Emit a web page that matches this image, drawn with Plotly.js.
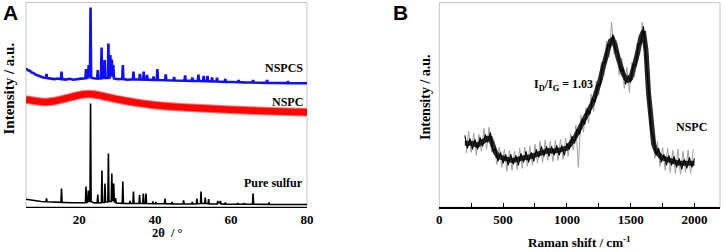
<!DOCTYPE html>
<html>
<head>
<meta charset="utf-8">
<script src="https://cdn.plot.ly/plotly-3.0.1.min.js"></script>
<style>
html,body{margin:0;padding:0;background:#fff;}
#chart{width:726px;height:252px;}
</style>
</head>
<body>
<div id="chart"></div>
<script>
// ---------- Panel A: XRD (2θ in degrees, intensity in arbitrary units) ----------
const xrdTicks = [20, 40, 60, 80];

const sulfurX = [6,7,8,9,10,11.25,11.4,11.55,13,15.2,15.35,15.5,18,21.65,21.8,21.95,22.25,22.4,22.55,22.85,23.0,23.15,24.0,24.75,24.9,25.05,25.85,26.0,26.15,26.65,26.8,26.95,27.55,27.7,27.85,28.45,28.6,28.75,28.95,29.1,29.25,29.45,29.6,29.75,31.35,31.5,31.65,33.25,33.4,33.55,34.15,34.3,34.45,35.75,35.9,36.05,36.75,36.9,37.05,37.45,37.6,37.75,39.25,39.4,39.55,40.05,40.2,40.35,42.45,42.6,42.75,44.35,44.5,44.65,47.35,47.5,47.65,49.65,49.8,49.95,50.85,51.0,51.15,51.95,52.1,52.25,53.05,53.2,53.35,53.95,54.1,54.25,56.35,56.5,56.65,57.05,57.2,57.35,58.35,58.5,58.65,61.65,61.8,61.95,63.35,63.5,63.65,65.65,65.8,65.95,69.85,70.0,70.15,80];
const sulfurY = [7.2,6.5,6,5.3,5,4.8,8,4.7,4.3,4.1,18,4.1,3.8,3.7,20,4,4.5,16,5,5,103,5,3.6,3.6,12,3.6,3.8,36,4,4,23,4.5,4.5,53,5,5,33,6,6,23,5,4,8.5,3.5,3.2,25,3.2,3,5.5,3,3,15,3,3,11.5,3,3,13,3,3,13,3,2.8,5,2.8,2.8,4.5,2.8,2.7,8,2.7,2.6,4.5,2.6,2.5,6,2.5,2.5,4.5,2.5,2.5,8,2.8,3,15,3,3,9,3,2.8,7.5,2.6,2.5,5.5,3.5,3.5,5.5,2.5,2.4,4,2.4,2.3,3.5,2.3,2.3,3.5,2.3,2.2,13,2.2,2.1,4,2.1,2];

const nspcsX = [6,6.5,7,7.5,8,8.5,9,9.5,10,10.5,11.25,11.4,11.55,12.5,13.5,14.5,15.2,15.35,15.5,16.5,17.5,18.5,19.5,20.5,21.65,21.8,21.95,22.35,22.5,22.65,22.85,23.0,23.15,23.8,24.75,24.9,25.05,25.75,25.9,26.05,26.55,26.7,26.85,27.55,27.7,27.85,28.05,28.2,28.35,28.45,28.6,28.75,28.85,29.0,29.15,30.3,31.35,31.5,31.65,32.8,34.15,34.3,34.45,35.85,36.0,36.15,36.85,37.0,37.15,37.75,37.9,38.05,39.45,39.6,39.75,40.45,40.6,40.75,42.65,42.8,42.95,44.85,45.0,45.15,46.5,47.75,47.9,48.05,49.65,49.8,49.95,51.25,51.4,51.55,52.65,52.8,52.95,53.65,53.8,53.95,54.85,55.0,55.15,56.15,56.3,56.45,58.35,58.5,58.65,60,61.85,62.0,62.15,63.5,65.65,65.8,65.95,67.5,69.35,69.5,69.65,72,74.85,75.0,75.15,77.5,80];
const nspcsY = [138,136.2,135.8,134,133.4,131.8,131.2,130.2,129.8,129,128.6,132.5,128.4,128.2,127.4,128,127.3,135,127.4,126.9,127.7,126.8,127.6,127.9,128.3,137.5,128.5,129,141.5,129.5,129.5,199,129,128.3,128,136.5,128,128,159,128.5,128.5,146.5,128.5,128.5,163,129,129,151.5,130,130,147,130,129.5,141.5,128,127.3,127.6,141.5,127.4,126.8,127.3,135,127.2,127,132.5,127,126.9,135,126.9,126.8,131.5,126.8,126.6,130,126.6,126.5,137.5,126.5,126.3,132,126.2,126,129.5,126,125.7,125.8,131,125.8,125.6,129,125.6,125.5,132,125.5,125.4,130.5,125.4,125.3,130.5,125.3,125.2,129,125.1,125,128.8,125,124.7,127.5,124.7,124.5,124.3,126.5,124.3,124.1,124,126.5,124,123.8,123.6,126.5,123.6,123.5,123.4,125.5,123.4,123.3,123.2];

const nspcX = [6,8,10,11,12,14,16,18,20,21,22.5,24,25,26,28,30,32,34,36,38,40,42,45,48,52,56,60,65,70,75,80];
const nspcY = [107,105.7,104.8,104.5,104.7,105.8,107.6,109.5,111.3,112,112.5,112,111.3,110.5,108.8,107.2,105.8,104.5,103.3,102.2,101.3,100.6,99.7,99,98.2,97.5,96.8,96,95.3,94.7,94.2];

// ---------- Panel B: Raman (shift in cm-1, intensity in arbitrary units) ----------
const ramanTicks = [0, 500, 1000, 1500, 2000];
const ramanMinorTicks = [250, 750, 1250, 1750];

const ramanX = [200,220,240,260,280,300,320,340,360,380,400,420,440,460,480,500,520,540,560,580,600,620,640,660,680,700,720,740,760,780,800,820,840,860,880,900,920,940,960,980,1000,1020,1040,1060,1080,1100,1120,1140,1160,1180,1200,1220,1240,1260,1280,1300,1320,1340,1360,1380,1400,1420,1440,1460,1480,1500,1520,1540,1560,1580,1600,1620,1640,1660,1680,1700,1720,1740,1760,1780,1800,1820,1840,1860,1880,1900,1920,1940,1960,1980,2000];
// dense core of the noisy band (read along its middle)
const ramanMid = [64,64,65,64,63,62,64,66,68,69,69,61,55,51,50,50,49,47,47,47,47,48,49,49,50,50,51,52,53,54,55,56,57,57,56,56,56,57,58,58,59,62,65,69,74,79,83,87,92,98,104,111,118,127,138,149,158,166,168,161,150,141,134,129,127,129,137,147,158,170,176,157,114,81,63,56,53,50,49,48,47,46,45,45,44,44,44,44,44,44,44];
// jagged black edge of the band
const ramanY = [72,59,69,58,68,58,70,61,73,65,75,56,59,46,55,44,53,42,53,43,52,42,54,45,56,45,55,46,58,50,61,51,61,51,61,52,62,52,62,52,64,58,71,64,78,73,88,83,98,93,109,105,122,122,144,145,163,160,173,157,156,136,138,123,132,125,143,142,162,165,181,153,117,77,68,52,59,45,53,42,52,42,51,40,49,38,48,39,50,40,49];
// light grey spikes around the band
const ramanSpikeX = [210,230,250,270,290,310,330,350,370,390,410,430,450,470,490,510,530,550,570,590,610,630,650,670,690,710,730,750,770,790,810,830,850,870,890,910,930,950,970,990,1010,1030,1050,1070,1090,1110,1130,1150,1170,1190,1210,1230,1250,1270,1290,1310,1330,1350,1370,1390,1410,1430,1450,1470,1490,1510,1530,1550,1570,1590,1610,1630,1650,1670,1690,1710,1730,1750,1770,1790,1810,1830,1850,1870,1890,1910,1930,1950,1970,1990];
const ramanSpikeY = [54,76,55,74,52,73,56,79,58,80,55,66,43,60,40,58,36,57,37,56,38,59,39,60,41,61,42,63,44,66,45,67,47,66,46,67,47,68,48,69,51,74,57,82,40,92,75,100,84,113,96,126,112,145,132,166,150,185,153,167,132,149,119,140,115,145,130,164,152,185,157,145,87,82,49,66,41,60,37,59,35,57,34,58,33,56,35,57,34,58];

const serif = 'Liberation Serif, Times New Roman, serif';
const W = 726, H = 252;
function px(x){ return x / W; }
function py(y){ return 1 - y / H; }

const traces = [
  {x: sulfurX, y: sulfurY, xaxis:'x', yaxis:'y', mode:'lines', line:{color:'#000000', width:1.6}, hoverinfo:'skip'},
  {x: nspcX, y: nspcY, xaxis:'x', yaxis:'y', mode:'lines', line:{color:'rgba(255,0,0,0.55)', width:8.5, shape:'spline'}, hoverinfo:'skip'},
  {x: nspcX, y: nspcY, xaxis:'x', yaxis:'y', mode:'lines', line:{color:'#ff0505', width:6.5, shape:'spline'}, hoverinfo:'skip'},
  {x: nspcsX, y: nspcsY, xaxis:'x', yaxis:'y', mode:'lines', line:{color:'#1010ff', width:2.6}, hoverinfo:'skip'},
  {x: ramanSpikeX, y: ramanSpikeY, xaxis:'x2', yaxis:'y2', mode:'lines', line:{color:'#a0a0a0', width:1}, hoverinfo:'skip'},
  {x: ramanX, y: ramanMid, xaxis:'x2', yaxis:'y2', mode:'lines', line:{color:'#262626', width:5}, hoverinfo:'skip'},
  {x: ramanX, y: ramanY, xaxis:'x2', yaxis:'y2', mode:'lines', line:{color:'#000000', width:1.1}, hoverinfo:'skip'}
];

const tickFont = {family: serif, size: 13, color: '#000', weight: 'bold'};
const axisBase = {showgrid:false, zeroline:false, showline:true, linecolor:'#000', linewidth:1.5, tickfont:tickFont};

const layout = {
  width: W, height: H,
  margin: {l:0, r:0, t:0, b:0},
  paper_bgcolor: '#fff', plot_bgcolor: '#fff',
  showlegend: false,
  xaxis: Object.assign({}, axisBase, {domain:[26/W, 307/W], range:[6,80], tickvals: xrdTicks, ticktext: xrdTicks.map(String), ticks:'', anchor:'y'}),
  yaxis: {domain:[1-206.5/H, 1-2.5/H], range:[0,204], showgrid:false, zeroline:false, showticklabels:false, showline:false, ticks:'', anchor:'x'},
  xaxis2: Object.assign({}, axisBase, {domain:[439.3/W, 720/W], range:[0,2200], tickvals: ramanTicks, ticktext: ramanTicks.map(String), ticks:'inside', ticklen:4, tickwidth:1, tickcolor:'#000',
    minor:{tickvals: ramanMinorTicks, ticks:'inside', ticklen:4, tickwidth:1, tickcolor:'#000'}, anchor:'y2'}),
  yaxis2: {domain:[1-207.3/H, 1-2.7/H], range:[0,204.6], showgrid:false, zeroline:false, showticklabels:false, showline:false, ticks:'', anchor:'x2'},
  shapes: [
    {type:'rect', xref:'x domain', yref:'y domain', x0:0, x1:1, y0:0, y1:1, line:{color:'#c4c4c4', width:1}, layer:'below'},
    {type:'rect', xref:'x2 domain', yref:'y2 domain', x0:0, x1:1, y0:0, y1:1, line:{color:'#c4c4c4', width:1}, layer:'below'}
  ],
  annotations: [
    {text:'A', x:px(10), y:py(12.5), xref:'paper', yref:'paper', showarrow:false, xanchor:'center', yanchor:'middle', font:{family:'Liberation Sans, Arial, sans-serif', size:21, color:'#000', weight:'bold'}},
    {text:'B', x:px(400), y:py(12.5), xref:'paper', yref:'paper', showarrow:false, xanchor:'center', yanchor:'middle', font:{family:'Liberation Sans, Arial, sans-serif', size:21, color:'#000', weight:'bold'}},
    {text:'Intensity / a.u.', x:px(8.5), y:py(89), xref:'paper', yref:'paper', showarrow:false, textangle:-90, xanchor:'center', yanchor:'middle', font:{family:serif, size:15, color:'#000', weight:'bold'}},
    {text:'Intensity / a.u.', x:px(426), y:py(97), xref:'paper', yref:'paper', showarrow:false, textangle:-90, xanchor:'center', yanchor:'middle', font:{family:serif, size:14, color:'#000', weight:'bold'}},
    {text:'2θ  / °', x:px(167), y:py(232.5), xref:'paper', yref:'paper', showarrow:false, xanchor:'center', yanchor:'middle', font:{family:serif, size:12.5, color:'#000', weight:'bold'}},
    {text:'Raman shift / cm<sup>-1</sup>', x:px(579), y:py(242), xref:'paper', yref:'paper', showarrow:false, xanchor:'center', yanchor:'middle', font:{family:serif, size:13, color:'#000', weight:'bold'}},
    {text:'NSPCS', x:px(305), y:py(67.7), xref:'paper', yref:'paper', showarrow:false, xanchor:'right', yanchor:'middle', font:{family:serif, size:12, color:'#000', weight:'bold'}},
    {text:'NSPC', x:px(305), y:py(101.7), xref:'paper', yref:'paper', showarrow:false, xanchor:'right', yanchor:'middle', font:{family:serif, size:12, color:'#000', weight:'bold'}},
    {text:'Pure sulfur', x:px(305), y:py(183.3), xref:'paper', yref:'paper', showarrow:false, xanchor:'right', yanchor:'middle', font:{family:serif, size:12, color:'#000', weight:'bold'}},
    {text:'NSPC', x:px(691), y:py(126.7), xref:'paper', yref:'paper', showarrow:false, xanchor:'center', yanchor:'middle', font:{family:serif, size:12, color:'#000', weight:'bold'}},
    {text:'I<sub>D</sub>/I<sub>G</sub> = 1.03', x:px(532), y:py(85), xref:'paper', yref:'paper', showarrow:false, xanchor:'left', yanchor:'middle', font:{family:serif, size:12, color:'#000', weight:'bold'}}
  ]
};

Plotly.newPlot('chart', traces, layout, {staticPlot:true, displayModeBar:false});
</script>
</body>
</html>
